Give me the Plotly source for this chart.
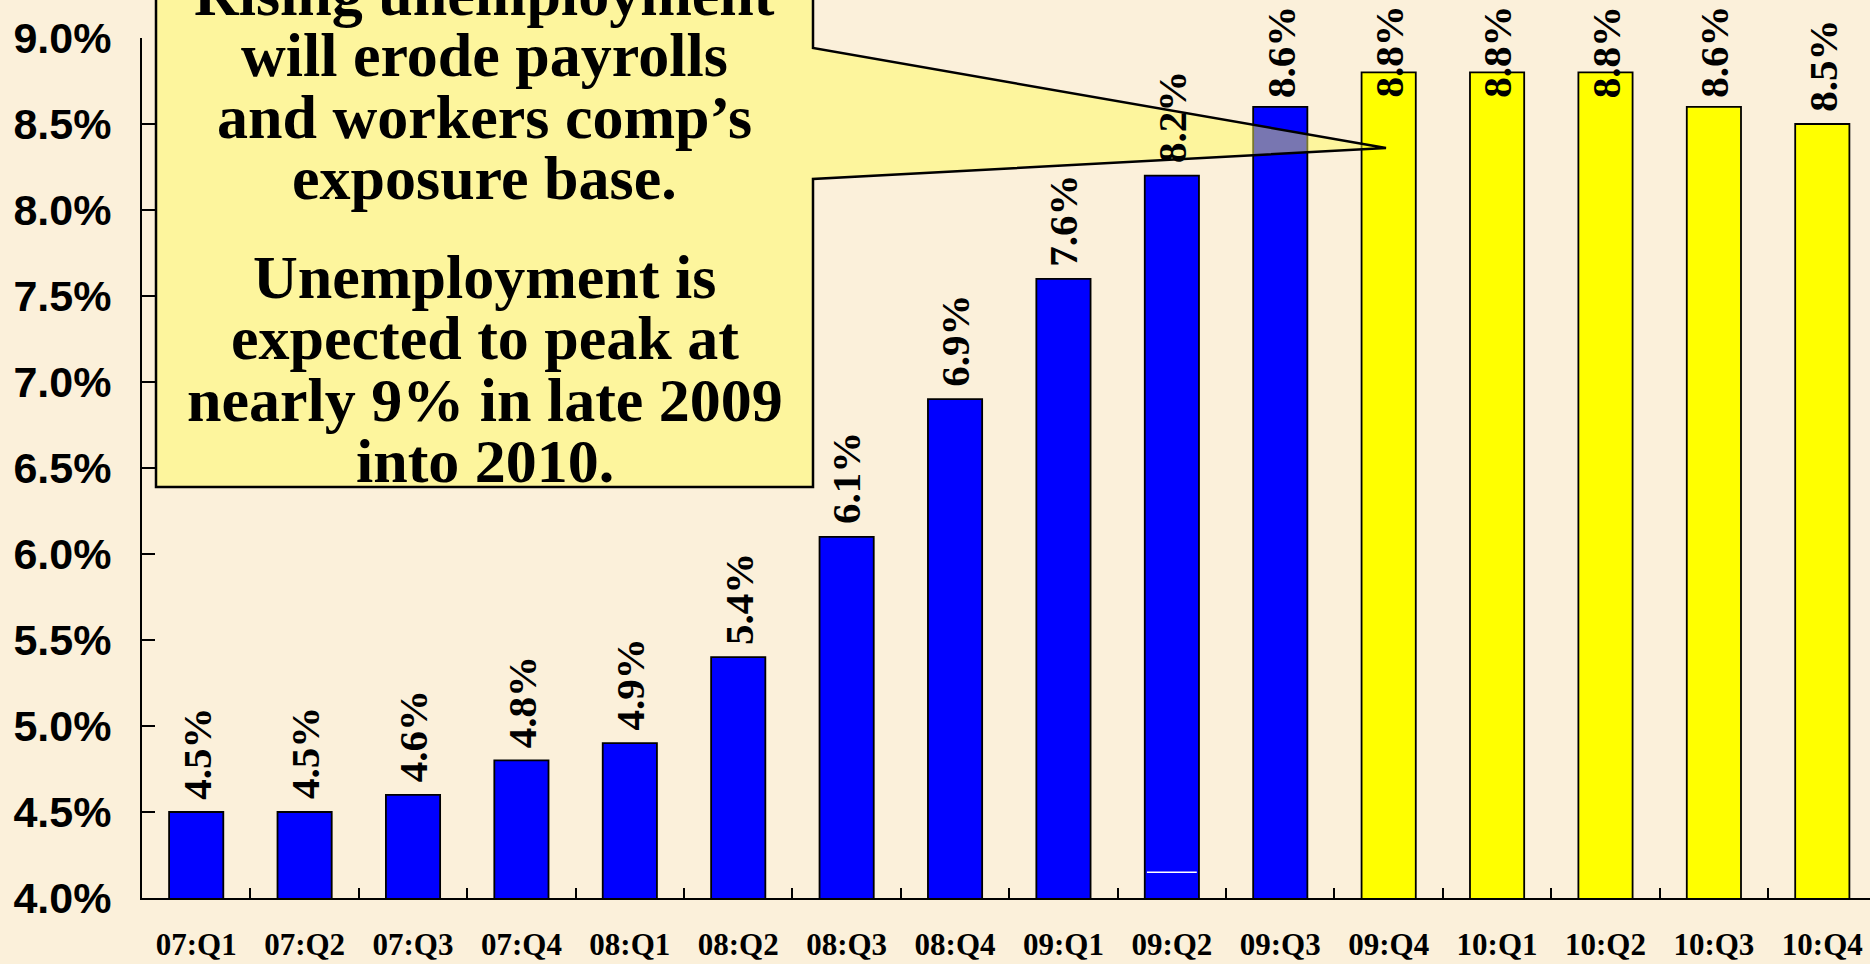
import plotly.graph_objects as go

# ---------------- data ----------------
QUARTERS = ["07:Q1", "07:Q2", "07:Q3", "07:Q4", "08:Q1", "08:Q2", "08:Q3", "08:Q4",
            "09:Q1", "09:Q2", "09:Q3", "09:Q4", "10:Q1", "10:Q2", "10:Q3", "10:Q4"]
ACTUAL_QUARTERS = QUARTERS[:11]
ACTUAL_RATES = [4.5, 4.5, 4.6, 4.8, 4.9, 5.4, 6.1, 6.9, 7.6, 8.2, 8.6]
FORECAST_QUARTERS = QUARTERS[11:]
FORECAST_RATES = [8.8, 8.8, 8.8, 8.6, 8.5]
Y_TICKS = [4.0, 4.5, 5.0, 5.5, 6.0, 6.5, 7.0, 7.5, 8.0, 8.5, 9.0]

CALLOUT_PARAGRAPHS = [
    ["Rising unemployment", "will erode payrolls", "and workers comp\u2019s", "exposure base."],
    ["Unemployment is", "expected to peak at", "nearly 9% in late 2009", "into 2010."],
]

# ---------------- layout constants ----------------
W, H = 1870, 964
ML, MR, MT, MB = 142, 0, 38, 66
PW, PH = W - ML - MR, H - MT - MB
BG = "#FBF0DA"
BLUE = "#0000FF"
YELLOW = "#FFFF00"
SERIF = "Liberation Serif"
SANS = "Liberation Sans"
LABEL_CAP = 8.58          # data labels are kept inside the slide area


def px_x(px):
    return (px - ML) / PW


def px_y(py):
    return (H - MB - py) / PH


fig = go.Figure()
bar_line = dict(color="#000000", width=1.8)
fig.add_trace(go.Bar(x=ACTUAL_QUARTERS, y=ACTUAL_RATES, width=0.5,
                     marker=dict(color=BLUE, line=bar_line), hoverinfo="skip"))
fig.add_trace(go.Bar(x=FORECAST_QUARTERS, y=FORECAST_RATES, width=0.5,
                     marker=dict(color=YELLOW, line=bar_line), hoverinfo="skip"))

annotations = []
for q, v in list(zip(ACTUAL_QUARTERS, ACTUAL_RATES)) + list(zip(FORECAST_QUARTERS, FORECAST_RATES)):
    annotations.append(dict(
        x=q, y=min(v, LABEL_CAP), xref="x", yref="y", text=f"{v:.1f}%",
        textangle=-90, showarrow=False, xanchor="center", yanchor="bottom",
        yshift=10.5, font=dict(family=SERIF, size=41, color="black", weight="bold")))

# callout box with pointer
BOX_L, BOX_R, BOX_T, BOX_B = 156, 813, -40, 487
WEDGE_T, WEDGE_B, TIP_X, TIP_Y = 48, 179, 1386, 148
path = (f"M {px_x(BOX_L)},{px_y(BOX_T)} L {px_x(BOX_R)},{px_y(BOX_T)} "
        f"L {px_x(BOX_R)},{px_y(WEDGE_T)} L {px_x(TIP_X)},{px_y(TIP_Y)} "
        f"L {px_x(BOX_R)},{px_y(WEDGE_B)} L {px_x(BOX_R)},{px_y(BOX_B)} "
        f"L {px_x(BOX_L)},{px_y(BOX_B)} Z")
shapes = [dict(type="path", xref="paper", yref="paper", path=path,
               fillcolor="rgba(255,250,90,0.47)", line=dict(color="black", width=2.5),
               layer="above")]

# thin white artefact line inside the 09:Q2 bar
ART_IDX = QUARTERS.index("09:Q2")
shapes.append(dict(type="line", xref="x", yref="y", x0=ART_IDX - 0.23, x1=ART_IDX + 0.23,
                   y0=4.15, y1=4.15, line=dict(color="white", width=1.5), layer="above"))

FIRST_BASE, LINE_STEP, PARA_EXTRA, CALLOUT_SIZE = 15, 61.3, 38, 62
cx = px_x((BOX_L + BOX_R) / 2)
base = FIRST_BASE
for pi, para in enumerate(CALLOUT_PARAGRAPHS):
    if pi > 0:
        base += PARA_EXTRA
    for line in para:
        annotations.append(dict(
            x=cx, y=px_y(base - 0.34 * CALLOUT_SIZE), xref="paper", yref="paper",
            text=line, showarrow=False, xanchor="center", yanchor="middle",
            font=dict(family=SERIF, size=CALLOUT_SIZE, color="black", weight="bold")))
        base += LINE_STEP

fig.update_layout(
    width=W, height=H, margin=dict(l=ML, r=MR, t=MT, b=MB, autoexpand=False),
    paper_bgcolor=BG, plot_bgcolor=BG, showlegend=False, barmode="overlay",
    bargap=0.5, annotations=annotations, shapes=shapes,
    xaxis=dict(type="category", categoryorder="array", categoryarray=QUARTERS,
               range=[-0.5, 15.44], showline=True, linecolor="black", linewidth=2,
               ticks="inside", tickson="boundaries", ticklen=10, tickwidth=1.8,
               tickcolor="black", showgrid=False, zeroline=False,
               ticklabelstandoff=18,
               tickfont=dict(family=SERIF, size=31, color="black", weight="bold")),
    yaxis=dict(range=[4, 9], tickvals=Y_TICKS, ticktext=[f"{t:.1f}%" for t in Y_TICKS],
               showline=True, linecolor="black", linewidth=2, ticks="inside",
               ticklen=13, tickwidth=1.8, tickcolor="black", showgrid=False,
               zeroline=False, ticklabelstandoff=20,
               tickfont=dict(family=SANS, size=43, color="black", weight="bold")),
)

fig.write_html("out.html", config={"displayModeBar": False},
               post_script="document.body.style.margin='0';document.body.style.overflow='hidden';")
